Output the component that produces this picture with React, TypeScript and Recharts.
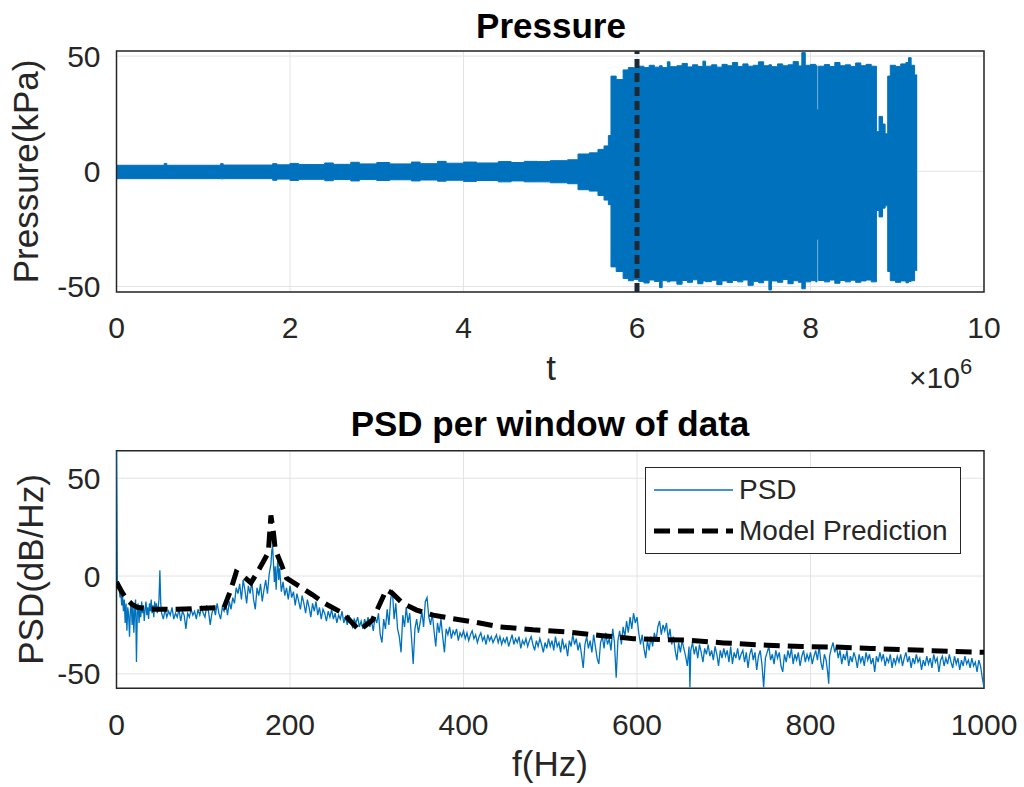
import { ComposedChart, Area, Line, XAxis, YAxis, CartesianGrid, ReferenceLine, ReferenceArea, Legend } from "recharts";

const FONT = '"Liberation Sans", Arial, Helvetica, sans-serif';
const BLUE = "#0072BD";
const INK = "#262626";
const GRID = "#e3e3e3";

const tTicks = [0, 2, 4, 6, 8, 10];
const pressureTicks = [-50, 0, 50];
const fTicks = [0, 200, 400, 600, 800, 1000];
const dbTicks = [-50, 0, 50];
const legendOrder = ["PSD", "Model Prediction"];

// envelope of the dense pressure trace: [t (x10^6), low kPa, high kPa]
const pressureEnvelope: [number, number, number][] = [
  [0, -3.2, 2.6], [0.55, -3.2, 3.4], [0.58, -3.2, 2.6], [1.2, -3.3, 3.3], [1.23, -3.2, 2.7],
  [1.8, -3.9, 3.3], [1.85, -3.4, 2.8], [2.0, -4.0, 3.4], [2.1, -3.5, 2.9], [2.4, -4.1, 3.6],
  [2.5, -3.6, 3.0], [2.7, -4.2, 3.9], [2.8, -3.6, 3.2], [3.0, -4.0, 3.8], [3.15, -3.7, 3.2],
  [3.4, -4.2, 4.0], [3.5, -3.8, 3.3], [3.7, -4.3, 4.3], [3.8, -3.9, 3.5], [4.0, -4.4, 4.0],
  [4.15, -4.0, 3.6], [4.4, -4.6, 4.2], [4.55, -4.2, 3.8], [4.7, -4.6, 4.3], [4.85, -4.6, 4.2],
  [5.0, -5.0, 4.6], [5.2, -5.4, 5.0], [5.32, -8.0, 7.5], [5.45, -8.6, 8.0], [5.55, -10.5, 9.5],
  [5.62, -12.5, 11.0], [5.67, -14.5, 15.5], [5.7, -41.5, 41.3], [5.76, -43.5, 39.8], [5.84, -46.5, 44.0],
  [5.9, -47.5, 45.0], [5.96, -47.0, 44.8], [6.02, -47.8, 45.6], [6.08, -48.5, 45.0], [6.14, -47.2, 46.0],
  [6.2, -47.8, 45.2], [6.26, -50.5, 45.8], [6.29, -47.5, 45.0], [6.35, -48.0, 47.5], [6.38, -47.6, 45.4],
  [6.46, -49.0, 45.8], [6.52, -47.4, 46.8], [6.58, -48.2, 45.3], [6.64, -47.1, 46.2], [6.7, -48.8, 45.5],
  [6.76, -47.6, 47.8], [6.79, -47.9, 45.6], [6.86, -47.3, 46.2], [6.92, -49.2, 45.2], [6.98, -47.6, 46.4],
  [7.04, -48.3, 45.8], [7.1, -47.4, 47.2], [7.16, -48.0, 45.5], [7.22, -47.2, 46.6], [7.28, -49.5, 45.6],
  [7.34, -47.8, 46.0], [7.4, -48.4, 47.5], [7.46, -47.3, 45.8], [7.52, -51.5, 46.2], [7.55, -47.6, 45.4],
  [7.62, -48.2, 46.6], [7.68, -47.0, 45.8], [7.74, -48.8, 46.2], [7.8, -47.5, 47.6], [7.86, -48.2, 45.7],
  [7.9, -51.0, 51.5], [7.94, -48.0, 46.0], [8.0, -47.5, 46.4], [8.06, -48.0, 45.8], [8.075, -29.5, 26.7],
  [8.09, -47.4, 45.6], [8.16, -48.0, 46.3], [8.22, -47.2, 45.5], [8.28, -48.6, 47.2], [8.34, -47.4, 45.8],
  [8.4, -48.0, 46.2], [8.46, -47.3, 45.5], [8.52, -48.2, 47.0], [8.58, -47.6, 45.8], [8.64, -47.2, 46.4],
  [8.7, -48.0, 45.6], [8.76, -17.0, 17.2], [8.79, -19.8, 23.8], [8.83, -16.0, 20.5], [8.86, -15.0, 16.3],
  [8.89, -43.5, 41.3], [8.92, -47.5, 46.0], [8.98, -48.2, 45.5], [9.04, -47.6, 46.6], [9.1, -48.4, 47.2],
  [9.13, -47.8, 49.3], [9.16, -47.5, 46.0], [9.2, -43.0, 41.8], [9.23, -43.0, 41.8],
];

// measured PSD: [f Hz, dB/Hz]
const psdPoints: [number, number][] = [
  [0, 64], [1, -3], [2, -7], [3, -5], [4, -11], [5, -8], [6, -15], [7, -10], [8, -18], [9, -12], [10, -24], [11, -14], [12, -28], [13, -16], [14, -20],
  [15, -31], [16, -18], [17, -13], [18, -25], [19, -15], [20, -29], [21, -17], [22, -12], [23, -44], [24, -19], [25, -14], [26, -24], [27, -16], [28, -21],
  [29, -13], [30, -19], [31, -15], [32, -23], [33, -17], [34, -13], [35, -20], [36, -16], [37, -22], [38, -14], [39, -18], [40, -12], [41, -19], [42, -15],
  [43, -21], [44, -13], [45, -17], [46, -14], [47, -19], [48, -16], [49, -12], [50, 3], [51, -14], [52, -19],
  [54, -22], [56, -17], [58, -21], [60, -18], [62, -20], [64, -16], [66, -22], [68, -19], [70, -21], [72, -17], [74, -23], [76, -18], [78, -20], [80, -27],
  [82, -19], [84, -21], [86, -17], [88, -20], [90, -18], [92, -22], [94, -17], [96, -20], [98, -16], [100, -19], [102, -21], [104, -15], [106, -18], [108, -25],
  [110, -19], [112, -16], [114, -20], [116, -14], [118, -19], [120, -22], [122, -16], [124, -18], [126, -14], [128, -20], [130, -13],
  [132, -17], [134, -11], [136, -14], [138, -6], [140, -9], [142, -4], [144, -12], [146, -2], [148, -7], [150, -14], [152, -5], [154, -9], [156, -3],
  [158, -12], [160, -17], [162, -6], [164, -10], [166, -4], [168, -13], [170, -7], [172, -2], [174, -9], [176, 1], [178, 6], [179, 13], [180, 15], [181, 6],
  [182, -3], [183, 5], [184, -7], [185, 2], [186, 9], [187, -2], [188, 4],
  [190, -8], [192, -3], [194, -10], [196, -6], [198, -12], [200, -5], [202, -11], [204, -8], [206, -15], [208, -9], [210, -13], [212, -17], [214, -10],
  [216, -14], [218, -19], [220, -12], [222, -16], [224, -21], [226, -14], [228, -18], [230, -13], [232, -20], [234, -16], [236, -22], [238, -17], [240, -19],
  [242, -23], [244, -18], [246, -21], [248, -17], [250, -22], [252, -19], [254, -24], [256, -20], [258, -22], [260, -18], [262, -24], [264, -21], [266, -25],
  [268, -20], [270, -23], [272, -26], [274, -22], [276, -24], [278, -21], [280, -26], [282, -23], [284, -27], [286, -22], [288, -25], [290, -21], [292, -26],
  [294, -23], [296, -28], [298, -21], [300, -24],
  [302, -19], [304, -30], [306, -34], [308, -22], [310, -27], [312, -17], [314, -25], [316, -12], [318, -7], [320, -22], [322, -14], [324, -27], [326, -31],
  [328, -39], [330, -20], [332, -26], [334, -16], [336, -24], [338, -19], [340, -31], [342, -45], [344, -27], [346, -22], [348, -29], [350, -24], [352, -18],
  [354, -26], [356, -13], [358, -11], [360, -21], [362, -25], [364, -19], [366, -28], [368, -36], [370, -24], [372, -29], [374, -22], [376, -31], [378, -39],
  [380, -27], [382, -30], [384, -26], [386, -32], [388, -28], [390, -30], [392, -27], [394, -33], [396, -29], [398, -31], [400, -28],
  [402, -32], [404, -29], [406, -33], [408, -30], [410, -28], [412, -32], [414, -30], [416, -34], [418, -31], [420, -29], [422, -33], [424, -31], [426, -35],
  [428, -30], [430, -33], [432, -31], [434, -34], [436, -32], [438, -30], [440, -34], [442, -31], [444, -35], [446, -32], [448, -34], [450, -31], [452, -36],
  [454, -33], [456, -30], [458, -35], [460, -32], [462, -34], [464, -31], [466, -37], [468, -33], [470, -35], [472, -32], [474, -36], [476, -33], [478, -31],
  [480, -35], [482, -38], [484, -33], [486, -36], [488, -32], [490, -35], [492, -39], [494, -34], [496, -37], [498, -32], [500, -36],
  [502, -33], [504, -38], [506, -31], [508, -36], [510, -34], [512, -39], [514, -32], [516, -37], [518, -35], [520, -41], [522, -33], [524, -36], [526, -30],
  [528, -35], [530, -32], [532, -38], [534, -34], [536, -40], [538, -47], [540, -35], [542, -31], [544, -37], [546, -33], [548, -39], [550, -30], [552, -36],
  [554, -42], [556, -45], [558, -34], [560, -31], [562, -37], [564, -29], [566, -35], [568, -32], [570, -38], [572, -27], [574, -34], [576, -52], [578, -33],
  [580, -28], [582, -35], [584, -26], [586, -31], [588, -23], [590, -29], [592, -21], [594, -27], [596, -19], [598, -24], [600, -21],
  [602, -29], [604, -35], [606, -30], [608, -37], [610, -42], [612, -33], [614, -38], [616, -31], [618, -36], [620, -29], [622, -33], [624, -26], [626, -23],
  [628, -30], [630, -25], [632, -28], [634, -24], [636, -32], [638, -27], [640, -35], [642, -31], [644, -38], [646, -43], [648, -34], [650, -39], [652, -33],
  [654, -37], [656, -41], [658, -46], [660, -36], [661, -57], [662, -38], [664, -34], [666, -40], [668, -36], [670, -42], [672, -35], [674, -39], [676, -44],
  [678, -37], [680, -40], [682, -35], [684, -41], [686, -38], [688, -43], [690, -36], [692, -40], [694, -46], [696, -38], [698, -42], [700, -37],
  [702, -41], [704, -38], [706, -44], [708, -36], [710, -45], [712, -39], [714, -42], [716, -37], [718, -43], [720, -40], [722, -38], [724, -44], [726, -39],
  [728, -47], [730, -40], [732, -37], [734, -43], [736, -39], [738, -48], [740, -41], [742, -38], [744, -45], [746, -57], [748, -42], [750, -39], [752, -36],
  [754, -43], [756, -40], [758, -45], [760, -38], [762, -42], [764, -39], [766, -46], [768, -49], [770, -40], [772, -44], [774, -38], [776, -42], [778, -37],
  [780, -45], [782, -40], [784, -43], [786, -39], [788, -46], [790, -41], [792, -38], [794, -44], [796, -40], [798, -43], [800, -39],
  [802, -45], [804, -41], [806, -38], [808, -43], [810, -36], [812, -44], [814, -48], [816, -40], [818, -43], [820, -50], [821, -55], [822, -41], [824, -37],
  [826, -34], [828, -39], [830, -36], [832, -42], [834, -38], [836, -45], [838, -40], [840, -43], [842, -38], [844, -46], [846, -41], [848, -44], [850, -39],
  [852, -42], [854, -47], [856, -40], [858, -44], [860, -41], [862, -46], [864, -39], [866, -43], [868, -40], [870, -45], [872, -42], [874, -49], [876, -41],
  [878, -44], [880, -39], [882, -43], [884, -40], [886, -46], [888, -42], [890, -44], [892, -40], [894, -47], [896, -42], [898, -45], [900, -41],
  [902, -44], [904, -40], [906, -46], [908, -42], [910, -39], [912, -44], [914, -41], [916, -47], [918, -42], [920, -45], [922, -40], [924, -44], [926, -42],
  [928, -48], [930, -43], [932, -46], [934, -41], [936, -45], [938, -42], [940, -47], [942, -40], [944, -44], [946, -42], [948, -49], [950, -43], [952, -41],
  [954, -46], [956, -42], [958, -45], [960, -40], [962, -44], [964, -47], [966, -41], [968, -45], [970, -42], [972, -48], [974, -43], [976, -46], [978, -41],
  [980, -45], [982, -43], [984, -47], [986, -42], [988, -46], [990, -44], [992, -49], [994, -43], [996, -46], [998, -52], [1000, -57],
];

// model prediction: [f Hz, dB/Hz]
const modelPoints: [number, number][] = [
  [0, -3], [6, -8], [12, -12], [18, -14.5], [24, -16], [40, -17], [70, -17], [100, -16.5], [124, -16],
  [131, -8], [138, 2], [146, 0], [155, -3.5], [165, 4], [175, 12], [178, 31], [181, 22], [183, 13.5],
  [190, 6], [196, -1], [210, -5], [226, -9.6], [240, -14], [261, -19], [280, -27.7], [295, -22.5],
  [303, -14.8], [311, -7], [318, -8.8], [330, -14], [346, -17.4], [365, -20], [384, -21.5], [411, -23.4],
  [442, -26], [480, -27.5], [519, -28.5], [560, -30.5], [596, -32], [630, -32.5], [658, -32.8], [700, -34.2],
  [750, -35.4], [790, -36], [827, -36.3], [870, -37], [904, -37.6], [950, -38.3], [1000, -39],
];

const envelopeRows = pressureEnvelope.map(([t, lo, hi]) => ({ t, band: [lo, hi] }));
const psdRows = psdPoints.map(([f, db]) => ({ f, psd: db }));
const modelRows = modelPoints.map(([f, db]) => ({ f, model: db }));

const tickStyle = { fontSize: 30, fill: INK, fontFamily: FONT };

function PsdLegend({ payload }: any) {
  const items = [...(payload || [])].sort((a: any, b: any) => legendOrder.indexOf(a.value) - legendOrder.indexOf(b.value));
  return (
    <div style={{ width: 316, height: 87, border: `1.5px solid ${INK}`, background: "#fff", fontFamily: FONT, fontSize: 28, color: INK, boxSizing: "border-box", position: "relative" }}>
      {items.map((entry: any, i: number) => {
        const dashed = entry.value === "Model Prediction";
        return (
          <div key={entry.value} style={{ position: "absolute", left: 0, top: i === 0 ? 4 : 45, height: 36, display: "flex", alignItems: "center" }}>
            <svg width={93} height={20} style={{ display: "block" }}>
              <line x1={8} x2={87} y1={10} y2={10} stroke={dashed ? "#000" : BLUE} strokeWidth={dashed ? 5 : 1.5} strokeDasharray={dashed ? "16 8" : undefined} />
            </svg>
            <span style={{ whiteSpace: "nowrap" }}>{entry.value}</span>
          </div>
        );
      })}
    </div>
  );
}

export default function App() {
  return (
    <div style={{ position: "absolute", left: 0, top: 0, width: 1024, height: 787, background: "#fff" }}>
      <div style={{ position: "absolute", left: 0, top: 0 }}>
        <ComposedChart width={1024} height={400} data={envelopeRows} margin={{ top: 51, right: 40, bottom: 48, left: 0 }}>
          <CartesianGrid stroke={GRID} strokeWidth={1} />
          <XAxis dataKey="t" type="number" domain={[0, 10]} ticks={tTicks} height={60} axisLine={false} tickLine={false} tickSize={0} tickMargin={25} tick={tickStyle} allowDataOverflow />
          <XAxis xAxisId="inB" type="number" domain={[0, 10]} ticks={tTicks} height={1} mirror tick={false} axisLine={false} tickSize={6} stroke={INK} />
          <XAxis xAxisId="inT" orientation="top" type="number" domain={[0, 10]} ticks={tTicks} height={1} mirror tick={false} axisLine={false} tickSize={6} stroke={INK} />
          <YAxis type="number" domain={[-52.4, 52.2]} ticks={pressureTicks} width={116.5} axisLine={false} tickLine={false} tickSize={0} tickMargin={16} tick={tickStyle} allowDataOverflow />
          <YAxis yAxisId="inL" type="number" domain={[-52.4, 52.2]} ticks={pressureTicks} width={1} mirror tick={false} axisLine={false} tickSize={6} stroke={INK} />
          <YAxis yAxisId="inR" orientation="right" type="number" domain={[-52.4, 52.2]} ticks={pressureTicks} width={1} mirror tick={false} axisLine={false} tickSize={6} stroke={INK} />
          <Area type="stepAfter" dataKey="band" stroke={BLUE} strokeWidth={1} fill={BLUE} fillOpacity={1} isAnimationActive={false} dot={false} activeDot={false} />
          <ReferenceLine x={6} stroke="#1d2a36" strokeWidth={5} strokeDasharray="9 5" />
          <ReferenceArea x1={0} x2={10} y1={-52.4} y2={52.2} fill="none" stroke={INK} strokeWidth={1.5} />
        </ComposedChart>
      </div>
      <div style={{ position: "absolute", left: 0, top: 400 }}>
        <ComposedChart width={1024} height={387} margin={{ top: 50.7, right: 40, bottom: 38.7, left: 0 }}>
          <CartesianGrid stroke={GRID} strokeWidth={1} />
          <XAxis dataKey="f" type="number" domain={[0, 1000]} ticks={fTicks} height={60} axisLine={false} tickLine={false} tickSize={0} tickMargin={25} tick={tickStyle} allowDataOverflow />
          <XAxis xAxisId="inB" type="number" domain={[0, 1000]} ticks={fTicks} height={1} mirror tick={false} axisLine={false} tickSize={6} stroke={INK} />
          <XAxis xAxisId="inT" orientation="top" type="number" domain={[0, 1000]} ticks={fTicks} height={1} mirror tick={false} axisLine={false} tickSize={6} stroke={INK} />
          <YAxis type="number" domain={[-57.4, 64.1]} ticks={dbTicks} width={116.5} axisLine={false} tickLine={false} tickSize={0} tickMargin={16} tick={tickStyle} allowDataOverflow />
          <YAxis yAxisId="inL" type="number" domain={[-57.4, 64.1]} ticks={dbTicks} width={1} mirror tick={false} axisLine={false} tickSize={6} stroke={INK} />
          <YAxis yAxisId="inR" orientation="right" type="number" domain={[-57.4, 64.1]} ticks={dbTicks} width={1} mirror tick={false} axisLine={false} tickSize={6} stroke={INK} />
          <Line data={psdRows} dataKey="psd" name="PSD" type="linear" stroke={BLUE} strokeWidth={1.3} dot={false} activeDot={false} isAnimationActive={false} />
          <Line data={modelRows} dataKey="model" name="Model Prediction" type="linear" stroke="#000" strokeWidth={5} strokeDasharray="16 8" dot={false} activeDot={false} isAnimationActive={false} />
          <ReferenceArea x1={0} x2={1000} y1={-57.4} y2={64.1} fill="none" stroke={INK} strokeWidth={1.5} />
          <Legend layout="horizontal" verticalAlign="middle" align="center" content={PsdLegend} wrapperStyle={{ position: "absolute", left: 645, top: 67, width: 316, height: 87 }} />
        </ComposedChart>
      </div>
      <svg width={1024} height={787} style={{ position: "absolute", left: 0, top: 0, pointerEvents: "none" }} fontFamily={FONT} fill={INK}>
        <text x={551} y={38} textAnchor="middle" fontSize={35} fontWeight="bold" fill="#000">Pressure</text>
        <text x={551} y={380} textAnchor="middle" fontSize={35}>t</text>
        <text transform="translate(38 171.5) rotate(-90)" textAnchor="middle" fontSize={35}>Pressure(kPa)</text>
        <text x={909} y={388} fontSize={30}>×10<tspan dy={-14} fontSize={22}>6</tspan></text>
        <text x={550} y={436} textAnchor="middle" fontSize={35} fontWeight="bold" fill="#000">PSD per window of data</text>
        <text x={550} y={776} textAnchor="middle" fontSize={35}>f(Hz)</text>
        <text transform="translate(43 569.5) rotate(-90)" textAnchor="middle" fontSize={35}>PSD(dB/Hz)</text>
      </svg>
    </div>
  );
}
